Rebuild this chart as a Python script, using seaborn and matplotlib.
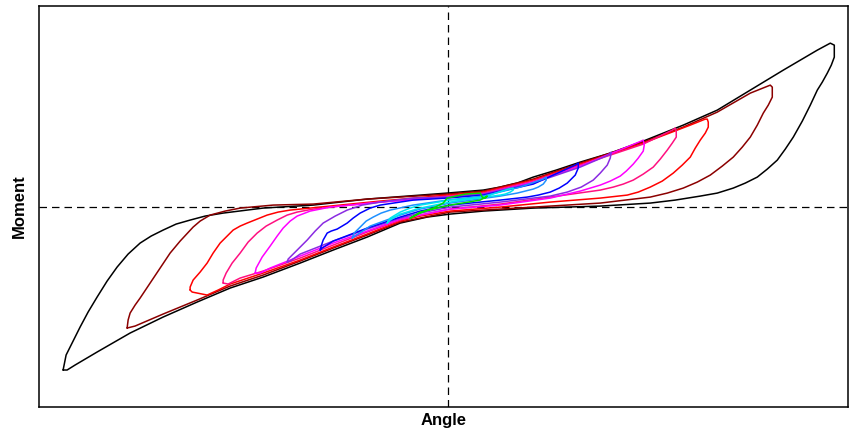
import matplotlib as mlp
mlp.use('Agg')
import matplotlib.pyplot as plt
import seaborn as sns
import pandas as pd

# loops (arbitrary units), each starts at its left tip,
# runs along the upper branch to the right tip and returns on the lower branch
black_angle = [-385, -382, -376, -368, -360, -351, -341, -331, -320, -308, -297, -285, -272, -258, -243, -225, -185, -135, -81, -1, 35, 52, 69, 85, 108, 132, 162, 195, 235, 269, 302, 335, 369, 382, 386, 386,
               383, 379, 374, 369, 362, 354, 345, 337, 329, 319, 309, 297, 285, 269, 252, 227, 202, 152, 85, 35, 2, -21, -48, -81, -115, -148, -185, -218, -251, -285, -318, -351, -373, -381, -385]
black_moment = [-163, -148, -136, -120, -105, -90, -74, -60, -47, -36, -29, -23, -17, -13, -9, -6, -1, 2, 8, 14, 17, 20, 24, 30, 37, 45, 54, 66, 82, 97, 117, 137, 157, 164, 162, 150,
                142, 134, 125, 117, 102, 86, 70, 58, 47, 38, 30, 24, 19, 14, 11, 7, 4, 1, -1, -4, -7, -10, -16, -30, -43, -56, -70, -81, -95, -110, -126, -145, -158, -163, -163]

darkred_angle = [-321, -320, -318, -313, -308, -298, -288, -278, -268, -255, -248, -238, -223, -208, -175, -135, -81, -1, 35, 85, 132, 195, 235, 269, 302, 322, 324, 324,
                 320, 315, 309, 302, 294, 285, 274, 262, 249, 235, 219, 202, 152, 102, 52, 2, -28, -48, -81, -115, -148, -185, -218, -251, -285, -313, -321]
darkred_moment = [-121, -113, -106, -98, -91, -76, -61, -46, -34, -20, -14, -8, -4, -1, 2, 3, 8, 13, 16, 28, 44, 65, 80, 95, 114, 122, 120, 110,
                  102, 94, 82, 70, 60, 50, 41, 32, 25, 19, 14, 10, 4, 1, -2, -5, -11, -15, -28, -41, -54, -68, -79, -93, -107, -119, -121]

red_angle = [-258, -258, -255, -248, -241, -235, -228, -221, -215, -208, -201, -191, -181, -170, -158, -118, -68, -1, 35, 85, 132, 195, 242, 257, 259, 260, 260,
             257, 252, 247, 242, 234, 225, 214, 202, 190, 179, 152, 102, 52, 2, -28, -48, -81, -115, -148, -185, -218, -230, -241, -251, -256, -258]
red_moment = [-83, -80, -73, -65, -56, -46, -36, -29, -23, -19, -16, -12, -8, -5, -3, 1, 6, 12, 15, 27, 43, 64, 82, 88, 88, 85, 80,
              74, 67, 59, 50, 42, 34, 26, 20, 15, 12, 9, 5, 0, -4, -9, -14, -27, -40, -53, -66, -77, -83, -88, -86, -85, -83]

pink_angle = [-225, -225, -222, -216, -208, -200, -191, -182, -171, -161, -151, -135, -118, -68, -1, 35, 85, 132, 195, 224, 227, 228, 228,
              224, 219, 212, 205, 195, 185, 175, 165, 152, 102, 52, 2, -28, -48, -81, -115, -148, -185, -208, -220, -225]
pink_moment = [-76, -73, -66, -56, -46, -35, -26, -19, -13, -8, -5, -2, 0, 5, 11, 14, 26, 42, 63, 77, 79, 76, 70,
               64, 57, 48, 40, 33, 27, 23, 20, 17, 10, 3, -2, -8, -13, -25, -38, -51, -64, -71, -77, -76]

magenta_angle = [-193, -192, -186, -178, -171, -165, -158, -151, -138, -118, -68, -1, 35, 85, 132, 193, 195, 196, 195,
                 190, 185, 178, 172, 162, 152, 132, 102, 52, 2, -48, -81, -115, -148, -178, -188, -193]
magenta_moment = [-66, -61, -50, -39, -29, -21, -14, -9, -4, 0, 5, 10, 13, 25, 41, 66, 67, 62, 56,
                  49, 43, 36, 31, 26, 22, 16, 9, 2, -2, -12, -24, -36, -49, -61, -66, -66]

purple_angle = [-161, -160, -155, -148, -141, -133, -125, -113, -101, -86, -68, -35, -1, 35, 85, 132, 160, 163, 162, 159,
                152, 145, 133, 119, 102, 85, 52, 2, -28, -48, -81, -115, -148, -158, -161]
purple_moment = [-55, -52, -47, -40, -33, -24, -16, -9, -3, 2, 5, 9, 10, 13, 24, 40, 52, 55, 49, 42,
                 34, 27, 20, 15, 11, 9, 5, 0, -6, -11, -22, -34, -47, -54, -55]

blue_angle = [-128, -127, -125, -121, -117, -111, -106, -101, -95, -88, -78, -68, -35, -1, 35, 85, 127, 130, 130, 127,
              119, 111, 102, 90, 79, 52, 2, -28, -48, -81, -115, -126, -128]
blue_moment = [-43, -39, -33, -26, -24, -22, -19, -16, -11, -6, -1, 2, 7, 9, 12, 23, 42, 44, 39, 32,
               24, 19, 15, 12, 10, 7, 2, -4, -10, -21, -34, -41, -43]

dodger_angle = [-96, -94, -88, -82, -75, -67, -58, -35, -1, 35, 72, 95, 98, 98, 95, 90, 85, 77, 69, 52, 2, -28, -48, -78, -93, -96]
dodger_moment = [-31, -26, -20, -14, -10, -6, -3, 2, 7, 11, 20, 28, 30, 27, 23, 20, 18, 16, 14, 11, 4, -2, -8, -19, -29, -31]

cyan_angle = [-61, -58, -53, -48, -38, -28, 2, 35, 60, 65, 65, 62, 57, 52, 22, 2, -28, -48, -58, -61]
cyan_moment = [-16, -11, -8, -5, -1, 2, 7, 10, 18, 19, 17, 15, 13, 12, 8, 5, -1, -7, -13, -16]

green_angle = [-38, -28, -15, -5, -1, 17, 32, 34, 37, 39, 32, 2, -28, -36, -38]
green_moment = [-11, -6, -1, 4, 9, 13, 14, 10, 9, 11, 7, 2, -5, -10, -11]

loops = {
    'black': (black_angle, black_moment),
    'darkred': (darkred_angle, darkred_moment),
    'red': (red_angle, red_moment),
    'pink': (pink_angle, pink_moment),
    'magenta': (magenta_angle, magenta_moment),
    'purple': (purple_angle, purple_moment),
    'blue': (blue_angle, blue_moment),
    'dodger': (dodger_angle, dodger_moment),
    'cyan': (cyan_angle, cyan_moment),
    'green': (green_angle, green_moment),
}
colors = {'black': '#000000', 'darkred': '#8B0000', 'red': '#FF0000', 'pink': '#FF1080',
          'magenta': '#FF00FF', 'purple': '#8A2BE2', 'blue': '#0000FF', 'dodger': '#1E90FF',
          'cyan': '#00E5EE', 'green': '#00DD00'}

frames = []
for name, (a, m) in loops.items():
    frames.append(pd.DataFrame({'Angle': a, 'Moment': m, 'loop': name}))
df = pd.concat(frames, ignore_index=True)

sns.set_style('white')
plt.rcParams['font.family'] = ['Liberation Sans', 'DejaVu Sans']

fig = plt.figure(figsize=(8.5, 4.4), dpi=100)
ax = fig.add_axes([0.046, 0.075, 0.952, 0.911])

ax.axhline(0, color='black', lw=0.9, ls=(0, (6, 4)), zorder=1)
ax.axvline(0, color='black', lw=0.9, ls=(0, (6, 4)), zorder=1)

sns.lineplot(data=df, x='Angle', y='Moment', hue='loop', palette=colors, sort=False,
             estimator=None, legend=False, lw=1.1, ax=ax)

ax.set_xlim(-409, 400)
ax.set_ylim(-200, 201)
ax.set_xticks([])
ax.set_yticks([])
for s in ax.spines.values():
    s.set_color('black')
    s.set_linewidth(1.1)
ax.set_xlabel('Angle', fontsize=12, fontweight='bold', color='black', labelpad=4)
ax.set_ylabel('Moment', fontsize=12, fontweight='bold', color='black', labelpad=9)

fig.savefig('out.png', dpi=100)
